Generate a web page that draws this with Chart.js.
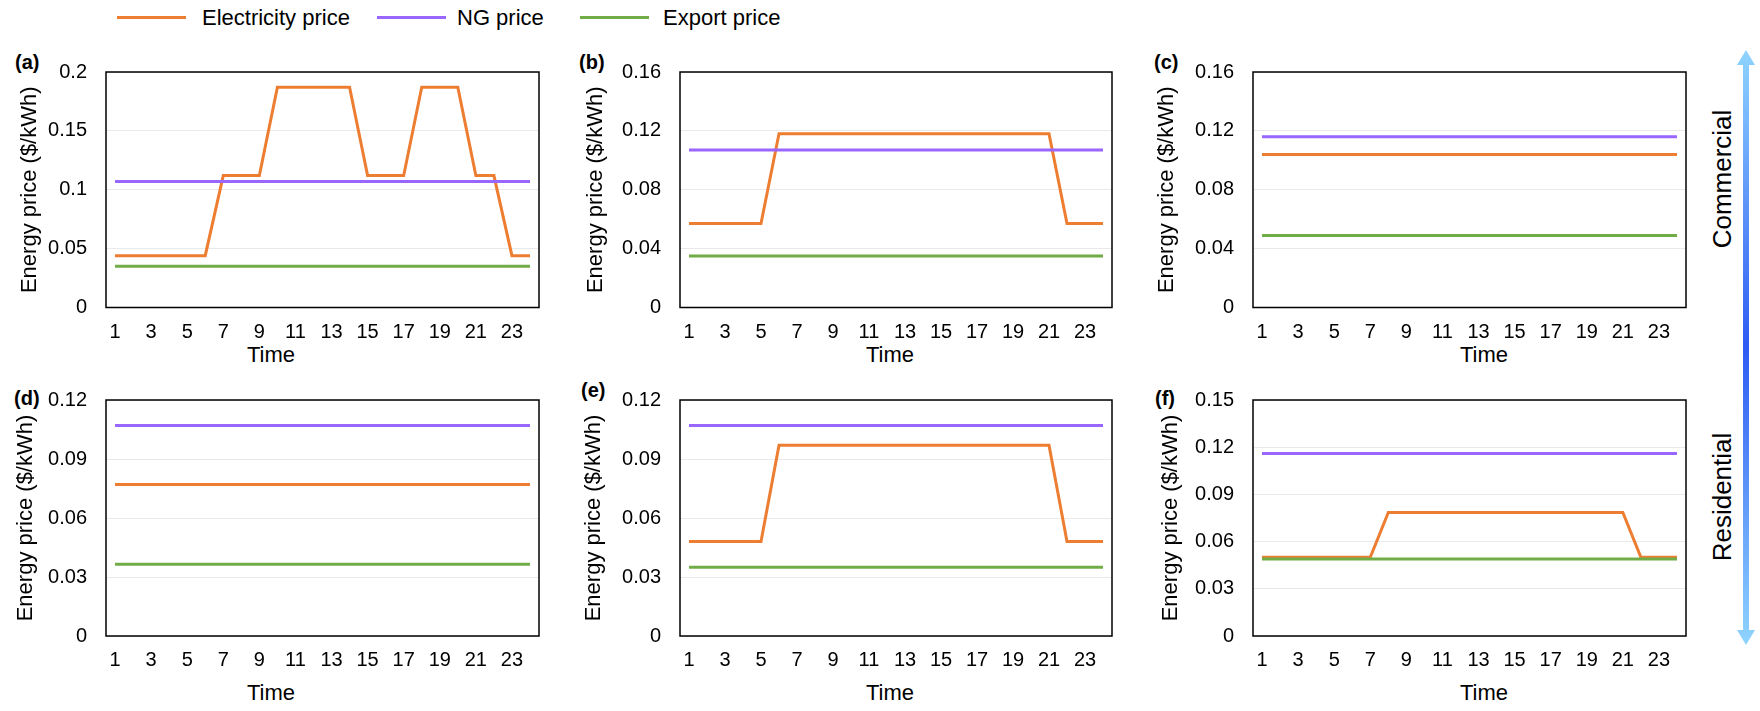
<!DOCTYPE html>
<html>
<head>
<meta charset="utf-8">
<script src="https://cdn.jsdelivr.net/npm/chart.js@4.4.1/dist/chart.umd.min.js"></script>
<style>
    body { margin: 0; width: 1760px; height: 711px; background: #fff; position: relative; overflow: hidden;
           font-family: 'Liberation Sans', Arial, sans-serif; color: #000; }
    canvas { position: absolute; }
    .key-line { position: absolute; top: 16px; width: 69px; height: 3px; }
    .key-text { position: absolute; top: 18px; font-size: 22px; line-height: 22px; transform: translateY(-50%); white-space: nowrap; }
    .tag { position: absolute; font-size: 20px; font-weight: bold; line-height: 20px; transform: translateY(-50%); }
    .xtitle { position: absolute; font-size: 22px; line-height: 22px; transform: translate(-50%, -50%); }
    .side { position: absolute; font-size: 26px; line-height: 26px; white-space: nowrap; transform: translate(-50%, -50%) rotate(-90deg); }
</style>
</head>
<body>
<!-- shared legend -->
<div class="key-line" style="left:117px;background:#ed7d31"></div>
<div class="key-text" style="left:202px">Electricity price</div>
<div class="key-line" style="left:377px;background:#9966ff"></div>
<div class="key-text" style="left:457px">NG price</div>
<div class="key-line" style="left:580px;background:#70ad47"></div>
<div class="key-text" style="left:663px">Export price</div>

<div class="tag" style="left:15px;top:62px">(a)</div>
<div class="tag" style="left:579px;top:62px">(b)</div>
<div class="tag" style="left:1154px;top:62px">(c)</div>
<div class="tag" style="left:14px;top:398px">(d)</div>
<div class="tag" style="left:581px;top:390px">(e)</div>
<div class="tag" style="left:1155px;top:398px">(f)</div>

<div class="xtitle" style="left:271px;top:355px">Time</div>
<div class="xtitle" style="left:890px;top:355px">Time</div>
<div class="xtitle" style="left:1484px;top:355px">Time</div>
<div class="xtitle" style="left:271px;top:693px">Time</div>
<div class="xtitle" style="left:890px;top:693px">Time</div>
<div class="xtitle" style="left:1484px;top:693px">Time</div>

<svg style="position:absolute;left:1730px;top:40px" width="30" height="620" viewBox="1730 40 30 620">
    <defs>
        <linearGradient id="arrowFill" x1="0" y1="50" x2="0" y2="645" gradientUnits="userSpaceOnUse">
            <stop offset="0" stop-color="#8fd4ff"/>
            <stop offset="0.5" stop-color="#2d5bf3"/>
            <stop offset="1" stop-color="#8fd4ff"/>
        </linearGradient>
    </defs>
    <path d="M1746 50 L1755 65 L1749 65 L1749 630 L1755 630 L1746 645 L1737 630 L1743 630 L1743 65 L1737 65 Z" fill="url(#arrowFill)"/>
</svg>
<div class="side" style="left:1722px;top:179px">Commercial</div>
<div class="side" style="left:1722px;top:497px">Residential</div>

<script>
const hours = [1, 2, 3, 4, 5, 6, 7, 8, 9, 10, 11, 12, 13, 14, 15, 16, 17, 18, 19, 20, 21, 22, 23, 24];

// (a) commercial, two-peak tariff
const elecA = [0.044, 0.044, 0.044, 0.044, 0.044, 0.044, 0.112, 0.112, 0.112, 0.187, 0.187, 0.187,
               0.187, 0.187, 0.112, 0.112, 0.112, 0.187, 0.187, 0.187, 0.112, 0.112, 0.044, 0.044];
const ngA = [0.107, 0.107, 0.107, 0.107, 0.107, 0.107, 0.107, 0.107, 0.107, 0.107, 0.107, 0.107,
             0.107, 0.107, 0.107, 0.107, 0.107, 0.107, 0.107, 0.107, 0.107, 0.107, 0.107, 0.107];
const exportA = [0.035, 0.035, 0.035, 0.035, 0.035, 0.035, 0.035, 0.035, 0.035, 0.035, 0.035, 0.035,
                 0.035, 0.035, 0.035, 0.035, 0.035, 0.035, 0.035, 0.035, 0.035, 0.035, 0.035, 0.035];
const yTicksA = ['0', '0.05', '0.1', '0.15', '0.2'];

// (b)
const elecB = [0.057, 0.057, 0.057, 0.057, 0.057, 0.118, 0.118, 0.118, 0.118, 0.118, 0.118, 0.118,
               0.118, 0.118, 0.118, 0.118, 0.118, 0.118, 0.118, 0.118, 0.118, 0.057, 0.057, 0.057];
const ngB = [0.107, 0.107, 0.107, 0.107, 0.107, 0.107, 0.107, 0.107, 0.107, 0.107, 0.107, 0.107,
             0.107, 0.107, 0.107, 0.107, 0.107, 0.107, 0.107, 0.107, 0.107, 0.107, 0.107, 0.107];
const exportB = [0.035, 0.035, 0.035, 0.035, 0.035, 0.035, 0.035, 0.035, 0.035, 0.035, 0.035, 0.035,
                 0.035, 0.035, 0.035, 0.035, 0.035, 0.035, 0.035, 0.035, 0.035, 0.035, 0.035, 0.035];
const yTicksB = ['0', '0.04', '0.08', '0.12', '0.16'];

// (c)
const elecC = [0.104, 0.104, 0.104, 0.104, 0.104, 0.104, 0.104, 0.104, 0.104, 0.104, 0.104, 0.104,
               0.104, 0.104, 0.104, 0.104, 0.104, 0.104, 0.104, 0.104, 0.104, 0.104, 0.104, 0.104];
const ngC = [0.116, 0.116, 0.116, 0.116, 0.116, 0.116, 0.116, 0.116, 0.116, 0.116, 0.116, 0.116,
             0.116, 0.116, 0.116, 0.116, 0.116, 0.116, 0.116, 0.116, 0.116, 0.116, 0.116, 0.116];
const exportC = [0.049, 0.049, 0.049, 0.049, 0.049, 0.049, 0.049, 0.049, 0.049, 0.049, 0.049, 0.049,
                 0.049, 0.049, 0.049, 0.049, 0.049, 0.049, 0.049, 0.049, 0.049, 0.049, 0.049, 0.049];
const yTicksC = ['0', '0.04', '0.08', '0.12', '0.16'];

// (d) residential
const elecD = [0.077, 0.077, 0.077, 0.077, 0.077, 0.077, 0.077, 0.077, 0.077, 0.077, 0.077, 0.077,
               0.077, 0.077, 0.077, 0.077, 0.077, 0.077, 0.077, 0.077, 0.077, 0.077, 0.077, 0.077];
const ngD = [0.107, 0.107, 0.107, 0.107, 0.107, 0.107, 0.107, 0.107, 0.107, 0.107, 0.107, 0.107,
             0.107, 0.107, 0.107, 0.107, 0.107, 0.107, 0.107, 0.107, 0.107, 0.107, 0.107, 0.107];
const exportD = [0.0365, 0.0365, 0.0365, 0.0365, 0.0365, 0.0365, 0.0365, 0.0365, 0.0365, 0.0365, 0.0365, 0.0365,
                 0.0365, 0.0365, 0.0365, 0.0365, 0.0365, 0.0365, 0.0365, 0.0365, 0.0365, 0.0365, 0.0365, 0.0365];
const yTicksD = ['0', '0.03', '0.06', '0.09', '0.12'];

// (e)
const elecE = [0.048, 0.048, 0.048, 0.048, 0.048, 0.097, 0.097, 0.097, 0.097, 0.097, 0.097, 0.097,
               0.097, 0.097, 0.097, 0.097, 0.097, 0.097, 0.097, 0.097, 0.097, 0.048, 0.048, 0.048];
const ngE = [0.107, 0.107, 0.107, 0.107, 0.107, 0.107, 0.107, 0.107, 0.107, 0.107, 0.107, 0.107,
             0.107, 0.107, 0.107, 0.107, 0.107, 0.107, 0.107, 0.107, 0.107, 0.107, 0.107, 0.107];
const exportE = [0.035, 0.035, 0.035, 0.035, 0.035, 0.035, 0.035, 0.035, 0.035, 0.035, 0.035, 0.035,
                 0.035, 0.035, 0.035, 0.035, 0.035, 0.035, 0.035, 0.035, 0.035, 0.035, 0.035, 0.035];
const yTicksE = ['0', '0.03', '0.06', '0.09', '0.12'];

// (f)
const elecF = [0.050, 0.050, 0.050, 0.050, 0.050, 0.050, 0.050, 0.0785, 0.0785, 0.0785, 0.0785, 0.0785,
               0.0785, 0.0785, 0.0785, 0.0785, 0.0785, 0.0785, 0.0785, 0.0785, 0.0785, 0.050, 0.050, 0.050];
const ngF = [0.116, 0.116, 0.116, 0.116, 0.116, 0.116, 0.116, 0.116, 0.116, 0.116, 0.116, 0.116,
             0.116, 0.116, 0.116, 0.116, 0.116, 0.116, 0.116, 0.116, 0.116, 0.116, 0.116, 0.116];
const exportF = [0.049, 0.049, 0.049, 0.049, 0.049, 0.049, 0.049, 0.049, 0.049, 0.049, 0.049, 0.049,
                 0.049, 0.049, 0.049, 0.049, 0.049, 0.049, 0.049, 0.049, 0.049, 0.049, 0.049, 0.049];
const yTicksF = ['0', '0.03', '0.06', '0.09', '0.12', '0.15'];

document.addEventListener('DOMContentLoaded', () => {
    Chart.defaults.font.family = "'Liberation Sans', Arial, sans-serif";
    Chart.defaults.color = '#000';

    // black box around each plot area
    const frame = {
        id: 'frame',
        afterDraw(chart) {
            const { ctx, chartArea: a } = chart;
            ctx.save();
            ctx.strokeStyle = '#000';
            ctx.lineWidth = 1.5;
            ctx.strokeRect(a.left, a.top, a.right - a.left, a.bottom - a.top);
            ctx.restore();
        }
    };

    // canvas placement; data comes from the arrays above
    const panels = [
        { x: 0,    y: 40,  w: 560, h: 340, axisW: 106, axisH: 72.5, padR: 21, titlePad: 17, xPad: 13, elec: elecA, ng: ngA, exp: exportA, ticks: yTicksA },
        { x: 560,  y: 40,  w: 570, h: 340, axisW: 120, axisH: 72.5, padR: 18, titlePad: 23, xPad: 13, elec: elecB, ng: ngB, exp: exportB, ticks: yTicksB },
        { x: 1130, y: 40,  w: 570, h: 340, axisW: 123, axisH: 72.5, padR: 14, titlePad: 24, xPad: 13, elec: elecC, ng: ngC, exp: exportC, ticks: yTicksC },
        { x: 0,    y: 368, w: 560, h: 343, axisW: 106, axisH: 75,   padR: 21, titlePad: 13, xPad: 12, elec: elecD, ng: ngD, exp: exportD, ticks: yTicksD },
        { x: 560,  y: 368, w: 570, h: 343, axisW: 120, axisH: 75,   padR: 18, titlePad: 21, xPad: 12, elec: elecE, ng: ngE, exp: exportE, ticks: yTicksE },
        { x: 1130, y: 368, w: 570, h: 343, axisW: 123, axisH: 75,   padR: 14, titlePad: 28, xPad: 12, elec: elecF, ng: ngF, exp: exportF, ticks: yTicksF }
    ];

    const line = (label, data, color, order) => ({
        label, data, order,
        borderColor: color,
        backgroundColor: color,
        borderWidth: 3,
        pointRadius: 0,
        tension: 0,
        fill: false
    });

    panels.forEach(p => {
        const canvas = document.createElement('canvas');
        canvas.width = p.w;
        canvas.height = p.h;
        canvas.style.left = p.x + 'px';
        canvas.style.top = p.y + 'px';
        document.body.appendChild(canvas);

        const yMax = parseFloat(p.ticks[p.ticks.length - 1]);
        const yStep = parseFloat(p.ticks[1]);

        new Chart(canvas, {
            type: 'line',
            data: {
                labels: hours,
                datasets: [
                    line('Electricity price', p.elec, '#ed7d31', 3),
                    line('NG price', p.ng, '#9966ff', 2),
                    line('Export price', p.exp, '#70ad47', 1)
                ]
            },
            options: {
                responsive: false,
                animation: false,
                devicePixelRatio: 1,
                layout: { padding: { top: 32, right: p.padR, bottom: 0, left: 0 } },
                plugins: { legend: { display: false }, tooltip: { enabled: false } },
                scales: {
                    x: {
                        offset: true,
                        grid: { display: false, drawTicks: false },
                        border: { display: false },
                        ticks: {
                            autoSkip: false,
                            maxRotation: 0,
                            padding: p.xPad,
                            font: { size: 20 },
                            callback: (v, i) => (i % 2 === 0 ? String(hours[i]) : '')
                        },
                        afterFit: s => { s.height = p.axisH; }
                    },
                    y: {
                        min: 0,
                        max: yMax,
                        grid: { color: '#e9e9e9', lineWidth: 1, drawTicks: false },
                        border: { display: false },
                        ticks: {
                            stepSize: yStep,
                            padding: 19,
                            font: { size: 20 },
                            callback: v => p.ticks.find(t => Math.abs(parseFloat(t) - v) < 1e-6) ?? ''
                        },
                        title: {
                            display: true,
                            text: 'Energy price ($/kWh)',
                            font: { size: 22 },
                            padding: { top: p.titlePad, bottom: 0 }
                        },
                        afterFit: s => { s.width = p.axisW; }
                    }
                }
            },
            plugins: [frame]
        });
    });
});
</script>
</body>
</html>
